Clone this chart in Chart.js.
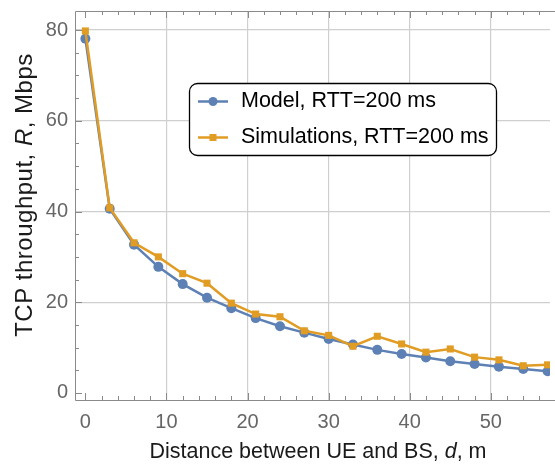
<!DOCTYPE html>
<html>
<head>
<meta charset="utf-8">
<script src="https://cdn.jsdelivr.net/npm/chart.js@4"></script>
<style>
html,body{margin:0;padding:0;background:#fff;}
#wrap{width:555px;height:464px;}
</style>
</head>
<body>
<div id="wrap"><canvas id="c" width="555" height="464"></canvas></div>
<script>
const distances = [0,3,6,9,12,15,18,21,24,27,30,33,36,39,42,45,48,51,54,57];
const modelValues = [78.1,40.6,32.7,27.8,24.0,21.0,18.7,16.5,14.7,13.3,11.9,10.7,9.5,8.6,7.8,7.0,6.4,5.8,5.3,4.8];
const simValues = [79.8,40.8,33.1,30.0,26.3,24.2,19.8,17.4,16.8,13.7,12.7,10.3,12.5,10.8,9.0,9.7,7.9,7.3,6.0,6.2];
const xTickLabels = [0,10,20,30,40,50];
const yTickLabels = [0,20,40,60,80];
const xMinorTicks = [0,2,4,6,8,10,12,14,16,18,20,22,24,26,28,30,32,34,36,38,40,42,44,46,48,50,52,54,56];
const yMinorTicks = [0,5,10,15,20,25,30,35,40,45,50,55,60,65,70,75,80];
const seriesLabels = ['Model, RTT=200 ms','Simulations, RTT=200 ms'];
const xTitle = ['Distance between UE and BS, ', 'd', ', m'];
const yTitle = ['TCP throughput, ', 'R', ', Mbps'];

const BLUE = '#5e81b5';
const ORANGE = '#e19c24';
const FONT = '"Liberation Sans", Arial, sans-serif';

function drawMixed(ctx, parts, x, y, size, rotate, spacing) {
  ctx.save();
  ctx.translate(x, y);
  if (rotate) ctx.rotate(-Math.PI/2);
  if ('letterSpacing' in ctx) ctx.letterSpacing = (spacing || 0) + 'px';
  const fonts = parts.map((p,i)=> (i===1?'italic ':'') + size + 'px ' + FONT);
  let total = 0;
  const widths = parts.map((p,i)=>{ctx.font = fonts[i]; const w = ctx.measureText(p).width; total += w; return w;});
  let cx = -total/2;
  ctx.fillStyle = '#1a1a1a';
  ctx.textBaseline = 'middle';
  ctx.textAlign = 'left';
  parts.forEach((p,i)=>{ctx.font = fonts[i]; ctx.fillText(p, cx, 0); cx += widths[i];});
  ctx.restore();
}

const framePlugin = {
  id: 'frame',
  beforeDatasetsDraw(chart) {
    const {ctx, chartArea: a, scales: {x, y}} = chart;
    ctx.save();
    ctx.strokeStyle = '#8a8a8a';
    ctx.lineWidth = 1;
    ctx.beginPath();
    ctx.moveTo(a.right + 5, a.top + 0.5); ctx.lineTo(a.left + 0.5, a.top + 0.5);
    ctx.lineTo(a.left + 0.5, a.bottom + 0.5); ctx.lineTo(a.right + 5, a.bottom + 0.5);
    ctx.stroke();
    ctx.beginPath();
    xMinorTicks.forEach(v=>{
      const px = Math.round(x.getPixelForValue(v)) + 0.5;
      const len = xTickLabels.includes(v) ? 7 : 4;
      ctx.moveTo(px, a.bottom); ctx.lineTo(px, a.bottom - len);
      ctx.moveTo(px, a.top); ctx.lineTo(px, a.top + len);
    });
    yMinorTicks.forEach(v=>{
      const py = Math.round(y.getPixelForValue(v)) + 0.5;
      const len = yTickLabels.includes(v) ? 7 : 4;
      ctx.moveTo(a.left, py); ctx.lineTo(a.left + len, py);
    });
    ctx.stroke();
    ctx.restore();
  },
  afterDraw(chart) {
    const {ctx} = chart;
    drawMixed(ctx, xTitle, 318, 452, 21.5, false, 0);
    drawMixed(ctx, yTitle, 25, 195, 24, true, 0.5);
    // legend
    const bx = 189.5, by = 83.5, bw = 307, bh = 72, r = 8;
    ctx.save();
    ctx.beginPath();
    ctx.roundRect(bx, by, bw, bh, r);
    ctx.fillStyle = '#fff';
    ctx.fill();
    ctx.strokeStyle = '#000';
    ctx.lineWidth = 1.3;
    ctx.stroke();
    const rows = [101.5, 137.5];
    chart.data.datasets.forEach((ds, i) => {
      const yy = rows[i];
      ctx.strokeStyle = ds.borderColor;
      ctx.lineWidth = 2.5;
      ctx.beginPath(); ctx.moveTo(198, yy); ctx.lineTo(228, yy); ctx.stroke();
      ctx.fillStyle = ds.borderColor;
      if (ds.pointStyle === 'rect') { ctx.fillRect(209.5, yy-3.5, 7, 7); }
      else { ctx.beginPath(); ctx.arc(213, yy, 4.5, 0, Math.PI*2); ctx.fill(); }
      ctx.fillStyle = '#000';
      ctx.font = '21.5px ' + FONT;
      ctx.textBaseline = 'middle';
      ctx.textAlign = 'left';
      ctx.fillText(ds.label, 241, yy);
    });
    ctx.restore();
  }
};

new Chart(document.getElementById('c'), {
  type: 'line',
  data: {
    datasets: [
      { label: seriesLabels[0], data: distances.map((d,i)=>({x:d, y:modelValues[i]})),
        borderColor: BLUE, backgroundColor: BLUE, pointBackgroundColor: BLUE,
        borderWidth: 2.5, pointRadius: 5, pointBorderWidth: 0, pointStyle: 'circle', order: 2, tension: 0 },
      { label: seriesLabels[1], data: distances.map((d,i)=>({x:d, y:simValues[i]})),
        borderColor: ORANGE, backgroundColor: ORANGE, pointBackgroundColor: ORANGE,
        borderWidth: 2.5, pointRadius: 5, pointBorderWidth: 0, pointStyle: 'rect', order: 1, tension: 0 }
    ]
  },
  options: {
    responsive: false,
    animation: false,
    devicePixelRatio: 1,
    layout: { padding: { top: 11, right: 0, left: 0, bottom: 0 } },
    plugins: { legend: { display: false }, tooltip: { enabled: false } },
    scales: {
      x: {
        type: 'linear', min: -1.28, max: 57.3,
        afterFit(s) { s.height = 64; s.paddingLeft = 0; s.paddingRight = 0; },
        afterBuildTicks(s) { s.ticks = xTickLabels.map(v=>({value:v})); },
        grid: { drawTicks: false, color: c => (c.tick && c.tick.value === 0) ? 'rgba(0,0,0,0)' : '#cfcfcf', lineWidth: 1.2 },
        border: { display: false },
        ticks: { font: { family: FONT, size: 20 }, color: '#666', padding: 10, maxRotation: 0, autoSkip: false }
      },
      y: {
        type: 'linear', min: -1.55, max: 84.2,
        afterFit(s) { s.width = 75; s.paddingTop = 0; s.paddingBottom = 0; },
        afterBuildTicks(s) { s.ticks = yTickLabels.map(v=>({value:v})); },
        grid: { drawTicks: false, color: c => (c.tick && c.tick.value === 0) ? 'rgba(0,0,0,0)' : '#cfcfcf', lineWidth: 1.2 },
        border: { display: false },
        ticks: { font: { family: FONT, size: 20 }, color: '#666', padding: 7, autoSkip: false }
      }
    }
  },
  plugins: [framePlugin]
});
</script>
</body>
</html>
